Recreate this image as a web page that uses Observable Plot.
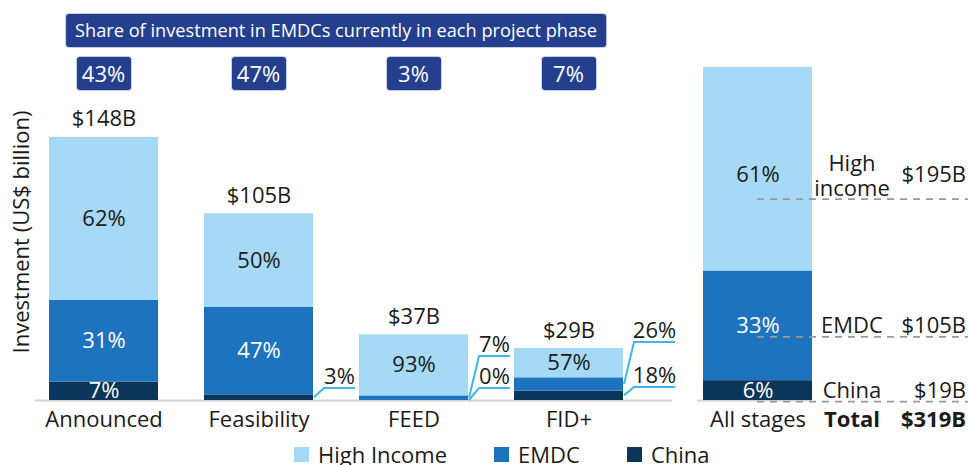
<!DOCTYPE html>
<html><head><meta charset="utf-8">
<script src="https://cdn.jsdelivr.net/npm/d3@7"></script>
<script src="https://cdn.jsdelivr.net/npm/@observablehq/plot@0.6"></script>
<style>
body{margin:0;background:#fff;font-family:"Open Sans",sans-serif;color:#1a1a1a}
#wrap{position:relative;width:968px;height:465px;overflow:hidden}
#wrap svg{position:absolute;top:0;overflow:visible}
.box{position:absolute;background:#253f8f;color:#fff;border-radius:3px;box-shadow:0 0 0 1px #c9d0e6;text-align:center;box-sizing:border-box}
#title{top:14px;height:33px;line-height:33px;font-size:18.2px;padding:0 9px;white-space:nowrap;transform:translateX(-50%)}
.pct{top:57px;height:33px;width:54px;line-height:33px;font-size:22px}
#ylab{position:absolute;left:20px;top:232px;font-size:22px;white-space:nowrap;transform:translate(-50%,-50%) rotate(-90deg)}
#legend{position:absolute;left:294px;top:443px;display:flex;gap:47px;font-size:22px;line-height:22px}
#legend .it{display:flex;align-items:center;gap:9px}
#legend .sw{width:15px;height:15px}
</style></head><body><div id="wrap"></div>
<script>
// ---- data ----
const phases = ["Announced", "Feasibility", "FEED", "FID+"];
const phaseTotals = [148, 105, 37, 29];              // US$ billion
const series = ["China", "EMDC", "High Income"];      // stacked bottom -> top
const seriesColors = ["#0b3559", "#1e73be", "#a6d9f5"];
const shareChina = [7, 3, 0, 18];
const shareEMDC = [31, 47, 7, 26];
const shareHigh = [62, 50, 93, 57];
const emdcPhaseShare = [43, 47, 3, 7];
const allLabel = "All stages";
const allNames = ["China", "EMDC", "High\nincome"];
const allValues = [19, 105, 195];
const allShares = [6, 33, 61];
const allTotal = 319;
const titleText = "Share of investment in EMDCs currently in each project phase";
const yTitle = "Investment (US$ billion)";

// ---- tables ----
const shares = [shareChina, shareEMDC, shareHigh];
const rows = [];
phases.forEach((p, i) => {
  let acc = 0;
  series.forEach((s, j) => {
    const v = phaseTotals[i] * shares[j][i] / 100;
    rows.push({phase: p, series: s, value: v, y1: acc, y2: acc + v, mid: acc + v / 2, label: shares[j][i] + "%"});
    acc += v;
  });
});
const totals = phases.map((p, i) => ({phase: p, total: phaseTotals[i], label: "$" + phaseTotals[i] + "B"}));
const inside = rows.filter(r => r.value >= 9);
const outside = rows.filter(r => r.value < 9);

let acc2 = 0;
const allRows = series.map((s, j) => {
  const v = allValues[j];
  const r = {key: s, name: allNames[j], value: v, y1: acc2, y2: acc2 + v, mid: acc2 + v / 2,
             label: allShares[j] + "%", money: "$" + v + "B"};
  acc2 += v;
  return r;
});

const FONT = "'Open Sans', sans-serif";
const DARK = "#1a1a1a";
const FS = 22;
const color = {domain: series, range: seriesColors};

// ---- left chart ----
const left = Plot.plot({
  width: 680, height: 465,
  marginTop: 0, marginBottom: 65, marginLeft: 0, marginRight: 0,
  style: {fontFamily: FONT, fontSize: FS + "px", color: DARK, background: "transparent"},
  x: {type: "band", domain: phases, range: [40.2, 630.8], paddingInner: 0.298, paddingOuter: 0.05, label: null},
  y: {domain: [0, 225], axis: null},
  color,
  marks: [
    Plot.ruleY([0], {stroke: "#d3d3d3", strokeWidth: 2, insetLeft: 35, insetRight: 8}),
    Plot.barY(rows, {x: "phase", y1: "y1", y2: "y2", fill: "series"}),
    Plot.text(inside.filter(r => r.series === "High Income"), {x: "phase", y: "mid", text: "label", fill: DARK, fontSize: FS}),
    Plot.text(inside.filter(r => r.series !== "High Income"), {x: "phase", y: "mid", text: "label", fill: "white", fontSize: FS}),
    Plot.text(totals, {x: "phase", y: "total", text: "label", dy: -18, fill: DARK, fontSize: FS}),
    Plot.axisX({tickSize: 0, tickPadding: 11, fontSize: FS, fill: DARK, label: null})
  ]
});

// ---- right chart ----
const hi = allRows.filter(r => r.key === "High Income");
const lo = allRows.filter(r => r.key !== "High Income");
const right = Plot.plot({
  width: 288, height: 465,
  marginTop: 0, marginBottom: 65, marginLeft: 0, marginRight: 0,
  style: {fontFamily: FONT, fontSize: FS + "px", color: DARK, background: "transparent"},
  x: {type: "band", domain: [allLabel], range: [23, 132], padding: 0, label: null},
  y: {domain: [0, 383], axis: null},
  color,
  marks: [
    Plot.ruleY([0], {stroke: "#d3d3d3", strokeWidth: 2, insetLeft: 17, insetRight: 156}),
    Plot.barY(allRows, {x: () => allLabel, y1: "y1", y2: "y2", fill: "key"}),
    Plot.ruleY(hi, {y: "mid", dy: 30, stroke: "#999", strokeWidth: 1.6, strokeDasharray: "7,6", insetLeft: 77}),
    Plot.ruleY(lo, {y: "mid", dy: 11, stroke: "#999", strokeWidth: 1.6, strokeDasharray: "7,6", insetLeft: 77}),
    Plot.text(hi, {x: () => allLabel, y: "mid", dy: 6, text: "label", fill: DARK, fontSize: FS}),
    Plot.text(lo, {x: () => allLabel, y: "mid", text: "label", fill: "white", fontSize: FS}),
    Plot.text(hi, {x: () => allLabel, y: "mid", dy: 6, dx: 94, text: "name", lineHeight: 1.14, fill: DARK, fontSize: FS}),
    Plot.text(lo, {x: () => allLabel, y: "mid", dx: 94, text: "name", fill: DARK, fontSize: FS}),
    Plot.text(hi, {x: () => allLabel, y: "mid", dy: 6, dx: 208, text: "money", textAnchor: "end", fill: DARK, fontSize: FS}),
    Plot.text(lo, {x: () => allLabel, y: "mid", dx: 208, text: "money", textAnchor: "end", fill: DARK, fontSize: FS}),
    Plot.text(["Total"], {x: () => allLabel, frameAnchor: "bottom", lineAnchor: "middle", dy: 19, dx: 94, text: d => d, fontWeight: "bold", fill: DARK, fontSize: FS}),
    Plot.text([allTotal], {x: () => allLabel, frameAnchor: "bottom", lineAnchor: "middle", dy: 19, dx: 208, text: d => "$" + d + "B", textAnchor: "end", fontWeight: "bold", fill: DARK, fontSize: FS}),
    Plot.axisX({tickSize: 0, tickPadding: 11, fontSize: FS, fill: DARK, label: null})
  ]
});

const wrap = document.getElementById("wrap");
left.style.left = "0px";
right.style.left = "680px";
wrap.appendChild(left);
wrap.appendChild(right);

// ---- callouts for thin segments (positions from the plot's scales) ----
const xs = left.scale("x"), ys = left.scale("y");
const bw = xs.bandwidth;
const lift = {"Feasibility|China": 12, "FEED|EMDC": 44, "FEED|China": 12, "FID+|EMDC": 58, "FID+|China": 13};
const g = d3.select(left).append("g");
outside.forEach(r => {
  const x0 = xs.apply(r.phase) + bw;
  const base = ys.apply(0);
  const lvl = base - lift[r.phase + "|" + r.series];
  const len = r.label.length > 2 ? 41 : 31;
  g.append("polyline")
    .attr("points", [[x0 + 1, ys.apply(r.mid)], [x0 + 11, lvl], [x0 + 11 + len, lvl]].map(p => p.join(",")).join(" "))
    .attr("fill", "none").attr("stroke", "#3db7ec").attr("stroke-width", 2);
  g.append("text").attr("x", x0 + 11 + len / 2).attr("y", lvl - 4)
    .attr("text-anchor", "middle").attr("fill", DARK).attr("font-size", FS).text(r.label);
});

// ---- header boxes ----
const c0 = xs.apply(phases[0]) + bw / 2, c1 = xs.apply(phases[phases.length - 1]) + bw / 2;
const t = document.createElement("div");
t.id = "title"; t.className = "box"; t.textContent = titleText;
t.style.left = ((c0 + c1) / 2) + "px";
wrap.appendChild(t);
phases.forEach((p, i) => {
  const d = document.createElement("div");
  d.className = "box pct";
  d.textContent = emdcPhaseShare[i] + "%";
  d.style.left = (xs.apply(p) + bw / 2 - 27) + "px";
  wrap.appendChild(d);
});

// ---- y title ----
const yl = document.createElement("div");
yl.id = "ylab"; yl.textContent = yTitle;
wrap.appendChild(yl);

// ---- legend ----
const lg = document.createElement("div");
lg.id = "legend";
series.slice().reverse().forEach(s => {
  const it = document.createElement("div"); it.className = "it";
  const sw = document.createElement("div"); sw.className = "sw";
  sw.style.background = seriesColors[series.indexOf(s)];
  const tx = document.createElement("span"); tx.textContent = s;
  it.appendChild(sw); it.appendChild(tx); lg.appendChild(it);
});
wrap.appendChild(lg);
</script>
</body></html>
